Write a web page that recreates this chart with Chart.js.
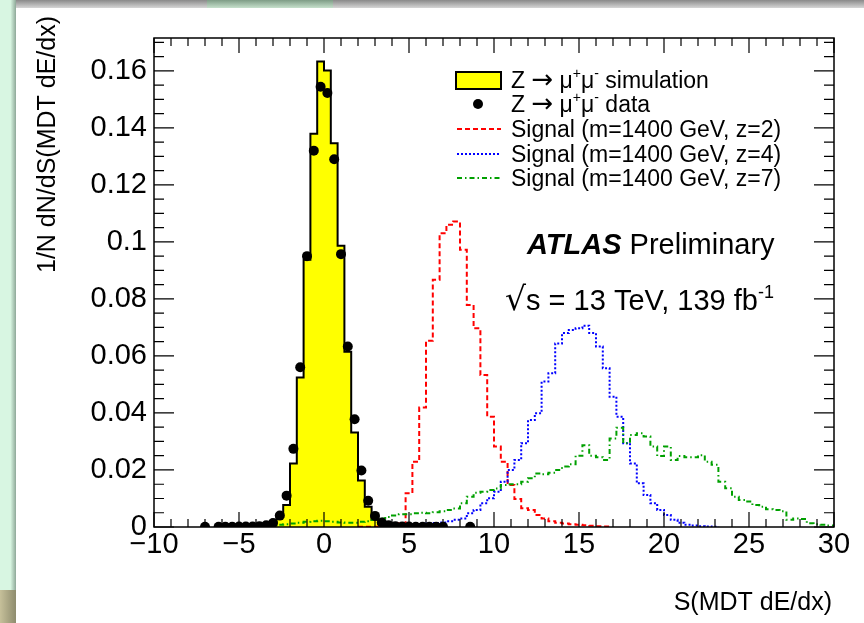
<!DOCTYPE html>
<html>
<head>
<meta charset="utf-8">
<script src="https://cdn.jsdelivr.net/npm/chart.js@4.4.1/dist/chart.umd.min.js"></script>
<style>
  body { margin: 0; background: #fff; }
  #lienzo { position: absolute; left: 0; top: 0; width: 864px; height: 623px; overflow: hidden; background: #fff; }
  .borde { position: absolute; }
  canvas { position: absolute; left: 0; top: 0; }
</style>
</head>
<body>
<div id="lienzo">
  <div class="borde" style="left:0;top:0;width:864px;height:8px;background:linear-gradient(#8a8a8a,#d6d6d6);"></div>
  <div class="borde" style="left:207px;top:0;width:126px;height:8px;background:linear-gradient(#7e9c86,#c6e0cc);"></div>
  <div class="borde" style="left:0;top:0;width:16px;height:623px;background:linear-gradient(to right,#d8f6e2 0%,#d8f6e2 65%,#8ea898 100%);"></div>
  <div class="borde" style="left:0;top:590px;width:16px;height:33px;background:linear-gradient(to right,#c6c09a,#8e8c6e);"></div>
  <canvas id="grafica" width="864" height="623"></canvas>
</div>
<script>
var ancho_bin = 0.4;

// Z -> mumu simulacion (histograma amarillo), bins desde -4.4
var sim_inicio = -4.4;
var sim_valores = [0.0001, 0.0002, 0.0004, 0.0015, 0.0036, 0.0077, 0.0223, 0.0524, 0.0937, 0.1379,
  0.1633, 0.1601, 0.1346, 0.0986, 0.0615, 0.0331, 0.0163, 0.0071, 0.0025, 0.001, 0.0004, 0.0002];

// Z -> mumu datos (puntos negros)
var datos_x = [-7.0, -6.2, -5.8, -5.4, -5.0, -4.6, -4.2, -3.8, -3.4, -3.0, -2.6, -2.2, -1.8, -1.4, -1.0, -0.6,
  -0.2, 0.2, 0.6, 1.0, 1.4, 1.8, 2.2, 2.6, 3.0, 3.4, 3.8, 4.2, 4.6, 5.0, 5.4, 5.8, 6.2, 6.6, 7.0, 8.6];
var datos_y = [0.0001, 0.0001, 0.0001, 0.0001, 0.0002, 0.0002, 0.0002, 0.0003, 0.0006, 0.0014, 0.004, 0.011,
  0.0274, 0.056, 0.095, 0.132, 0.1544, 0.1522, 0.129, 0.0957, 0.0633, 0.0378, 0.0198, 0.0092, 0.0039,
  0.0016, 0.0006, 0.0003, 0.0002, 0.0002, 0.0001, 0.0001, 0.0001, 0.0001, 0.0001, 0.0001];

// senal z=2 (rojo), bins desde 2.0
var z2_inicio = 2.0;
var z2_valores = [0.0001, 0.0001, 0.0001, 0.0002, 0.0002, 0.0004, 0.0013, 0.0118, 0.0229, 0.0419,
  0.0653, 0.0867, 0.103, 0.106, 0.1071, 0.0972, 0.0779, 0.0697, 0.0533, 0.0387, 0.0282, 0.0229, 0.0147,
  0.0098, 0.0066, 0.006, 0.0042, 0.003, 0.002, 0.0015, 0.0012, 0.001, 0.0008, 0.0006, 0.0004, 0.0003, 0.0002];

// senal z=4 (azul), bins desde 4.0
var z4_inicio = 4.0;
var z4_valores = [0.0003, 0.0004, 0.0006, 0.0008, 0.001, 0.0012, 0.0014, 0.0016, 0.002, 0.0025,
  0.003, 0.0048, 0.006, 0.0083, 0.0101, 0.0124, 0.0159, 0.020, 0.0235, 0.0294,
  0.0375, 0.0399, 0.051, 0.0539, 0.0644, 0.068, 0.0691, 0.0697, 0.0706, 0.068,
  0.0633, 0.0557, 0.0457, 0.0387, 0.0294, 0.0223, 0.0153, 0.0112, 0.0083, 0.006,
  0.0042, 0.0025, 0.0015, 0.0008, 0.0005, 0.0003, 0.0002, 0.0001];

// senal z=7 (verde), bins desde -4.0
var z7_inicio = -4.0;
var z7_valores = [0.0002, 0.0003, 0.0005, 0.0008, 0.001, 0.0012, 0.0015, 0.0018, 0.002, 0.0022,
  0.002, 0.0018, 0.0016, 0.0015, 0.0015, 0.0018, 0.002, 0.0025, 0.003, 0.0035,
  0.004, 0.0045, 0.0045, 0.0048, 0.005, 0.0048, 0.0052, 0.0055, 0.006, 0.0065,
  0.0083, 0.0106, 0.012, 0.0124, 0.013, 0.0135, 0.0147, 0.015, 0.015, 0.0159,
  0.0171, 0.0188, 0.0185, 0.019, 0.02, 0.0212, 0.022, 0.025, 0.0287, 0.025,
  0.0245, 0.0235, 0.031, 0.0348, 0.0294, 0.0323, 0.0329, 0.0317, 0.0282, 0.0249,
  0.0282, 0.0235, 0.0249, 0.0245, 0.0245, 0.0252, 0.0229, 0.0218, 0.0159, 0.0136,
  0.0106, 0.0095, 0.0089, 0.0077, 0.0071, 0.0062, 0.006, 0.0055, 0.0025, 0.003,
  0.0028, 0.0013, 0.001, 0.0008, 0.0005];

var eje_x_marcas = [-10, -5, 0, 5, 10, 15, 20, 25, 30];
var eje_y_marcas = [0, 0.02, 0.04, 0.06, 0.08, 0.1, 0.12, 0.14, 0.16];

var fuente = '"Liberation Sans", Arial, Helvetica, sans-serif';
var fuente_flecha = '"DejaVu Sans", sans-serif';

// puntos (borde izquierdo, valor) + borde final para dibujar escalones
function histograma(inicio, valores) {
  var puntos = [];
  for (var i = 0; i < valores.length; i++) {
    puntos.push({ x: inicio + i * ancho_bin, y: valores[i] });
  }
  puntos.push({ x: inicio + valores.length * ancho_bin, y: 0 });
  return puntos;
}

var puntos_datos = [];
for (var i = 0; i < datos_x.length; i++) {
  puntos_datos.push({ x: datos_x[i], y: datos_y[i] });
}

var estilo_rojo = [5, 3];
var estilo_azul = [2, 2];
var estilo_verde = [5, 3, 1.5, 3];

function texto_sup(ctx, partes, x, y, tam) {
  // partes: [texto, tipo] tipo 0 normal, 1 superindice, 2 flecha
  for (var i = 0; i < partes.length; i++) {
    var t = partes[i][1];
    if (t === 1) {
      ctx.font = Math.round(tam * 0.62) + "px " + fuente;
      ctx.fillText(partes[i][0], x, y - tam * 0.42);
    } else if (t === 2) {
      ctx.font = Math.round(tam * 1.15) + "px " + fuente_flecha;
      ctx.fillText(partes[i][0], x, y);
    } else {
      ctx.font = tam + "px " + fuente;
      ctx.fillText(partes[i][0], x, y);
    }
    x += ctx.measureText(partes[i][0]).width;
  }
  return x;
}

var marco = {
  id: "marco",
  afterDraw: function (chart) {
    var ctx = chart.ctx;
    var a = chart.chartArea;
    var sx = chart.scales.x;
    var sy = chart.scales.y;
    ctx.save();

    // MARCO Y MARCAS (estilo ROOT, hacia dentro en los cuatro lados)
    ctx.strokeStyle = "#000";
    ctx.lineWidth = 1.5;
    ctx.strokeRect(a.left, a.top, a.right - a.left, a.bottom - a.top);
    ctx.lineWidth = 1.2;
    ctx.beginPath();
    for (var v = -10; v <= 30; v++) {
      var px = sx.getPixelForValue(v);
      var largo = v % 5 === 0 ? 15 : 8;
      ctx.moveTo(px, a.bottom); ctx.lineTo(px, a.bottom - largo);
      ctx.moveTo(px, a.top); ctx.lineTo(px, a.top + largo);
    }
    for (var k = 0; k * 0.005 <= sy.max; k++) {
      var py = sy.getPixelForValue(k * 0.005);
      var largo2 = k % 4 === 0 ? 20 : 10;
      ctx.moveTo(a.left, py); ctx.lineTo(a.left + largo2, py);
      ctx.moveTo(a.right, py); ctx.lineTo(a.right - largo2, py);
    }
    ctx.stroke();

    // TITULOS DE EJES
    ctx.fillStyle = "#000";
    ctx.font = "25px " + fuente;
    ctx.textAlign = "right";
    ctx.textBaseline = "alphabetic";
    ctx.fillText("S(MDT dE/dx)", 832, 610);
    ctx.save();
    ctx.translate(55, 16);
    ctx.rotate(-Math.PI / 2);
    ctx.fillText("1/N dN/dS(MDT dE/dx)", 0, 0);
    ctx.restore();

    // LEYENDA
    ctx.textAlign = "left";
    var tx = 511;
    var filas = [80, 104, 129, 154, 178];
    ctx.fillStyle = "#ffff00";
    ctx.fillRect(456, 72, 45, 17);
    ctx.lineWidth = 2;
    ctx.strokeStyle = "#000";
    ctx.strokeRect(456, 72, 45, 17);
    ctx.fillStyle = "#000";
    ctx.beginPath();
    ctx.arc(478, filas[1], 5, 0, Math.PI * 2);
    ctx.fill();
    var lineas = [["#ff0000", estilo_rojo], ["#0000ff", estilo_azul], ["#00a000", estilo_verde]];
    for (var j = 0; j < 3; j++) {
      ctx.strokeStyle = lineas[j][0];
      ctx.setLineDash(lineas[j][1]);
      ctx.beginPath();
      ctx.moveTo(457, filas[j + 2]);
      ctx.lineTo(501, filas[j + 2]);
      ctx.stroke();
    }
    ctx.setLineDash([]);
    var base = 8;
    var tam = 23;
    ctx.fillStyle = "#000";
    texto_sup(ctx, [["Z ", 0], ["\u2192", 2], [" \u03bc", 0], ["+", 1], ["\u03bc", 0], ["-", 1], [" simulation", 0]], tx, filas[0] + base, tam);
    texto_sup(ctx, [["Z ", 0], ["\u2192", 2], [" \u03bc", 0], ["+", 1], ["\u03bc", 0], ["-", 1], [" data", 0]], tx, filas[1] + base, tam);
    texto_sup(ctx, [["Signal (m=1400 GeV, z=2)", 0]], tx, filas[2] + base, tam);
    texto_sup(ctx, [["Signal (m=1400 GeV, z=4)", 0]], tx, filas[3] + base, tam);
    texto_sup(ctx, [["Signal (m=1400 GeV, z=7)", 0]], tx, filas[4] + base, tam);

    // ATLAS
    ctx.font = "italic bold 29px " + fuente;
    ctx.fillText("ATLAS", 527, 254);
    var w = ctx.measureText("ATLAS ").width;
    ctx.font = "29px " + fuente;
    ctx.fillText("Preliminary", 527 + w, 254);
    texto_sup(ctx, [["\u221a", 2], ["s = 13 TeV, 139 fb", 0], ["-1", 1]], 505, 310, 29);

    ctx.restore();
  }
};

var ctx = document.getElementById("grafica").getContext("2d");

var myChart = new Chart(ctx, {
  type: "line",
  data: {
    datasets: [
      {
        label: "Z -> mumu data",
        data: puntos_datos,
        showLine: false,
        pointRadius: 5,
        pointBackgroundColor: "#000",
        pointBorderWidth: 0,
        borderColor: "#000",
      },
      {
        label: "Signal z=7",
        data: histograma(z7_inicio, z7_valores),
        stepped: "before",
        borderColor: "#00a000",
        borderWidth: 2,
        borderDash: estilo_verde,
        pointRadius: 0,
        fill: false,
      },
      {
        label: "Signal z=4",
        data: histograma(z4_inicio, z4_valores),
        stepped: "before",
        borderColor: "#0000ff",
        borderWidth: 2,
        borderDash: estilo_azul,
        pointRadius: 0,
        fill: false,
      },
      {
        label: "Signal z=2",
        data: histograma(z2_inicio, z2_valores),
        stepped: "before",
        borderColor: "#ff0000",
        borderWidth: 2,
        borderDash: estilo_rojo,
        pointRadius: 0,
        fill: false,
      },
      {
        label: "Z -> mumu simulation",
        data: histograma(sim_inicio, sim_valores),
        stepped: "before",
        borderColor: "#000",
        borderWidth: 2,
        backgroundColor: "#ffff00",
        pointRadius: 0,
        fill: "origin",
      },
    ],
  },
  options: {
    responsive: false,
    animation: false,
    devicePixelRatio: 1,
    layout: { padding: { top: 38, right: 30, left: 0, bottom: 0 } },
    plugins: {
      legend: { display: false },
      tooltip: { enabled: false },
    },
    scales: {
      x: {
        type: "linear",
        min: -10,
        max: 30,
        grid: { display: false, drawTicks: false },
        border: { display: false },
        afterBuildTicks: function (s) {
          s.ticks = eje_x_marcas.map(function (v) { return { value: v }; });
        },
        ticks: {
          padding: 1,
          color: "#000",
          font: { family: fuente, size: 29 },
          maxRotation: 0,
          autoSkip: false,
          callback: function (v) {
            return v < 0 ? "\u2212" + Math.abs(v) : String(v);
          },
        },
        afterFit: function (s) { s.height = 623 - 527; },
      },
      y: {
        type: "linear",
        min: 0,
        max: 0.1715,
        grid: { display: false, drawTicks: false },
        border: { display: false },
        afterBuildTicks: function (s) {
          s.ticks = eje_y_marcas.map(function (v) { return { value: v }; });
        },
        ticks: {
          padding: 7,
          color: "#000",
          font: { family: fuente, size: 29 },
          autoSkip: false,
          callback: function (v) {
            return String(+v.toFixed(2));
          },
        },
        afterFit: function (s) { s.width = 154; },
      },
    },
  },
  plugins: [marco],
});
</script>
</body>
</html>
